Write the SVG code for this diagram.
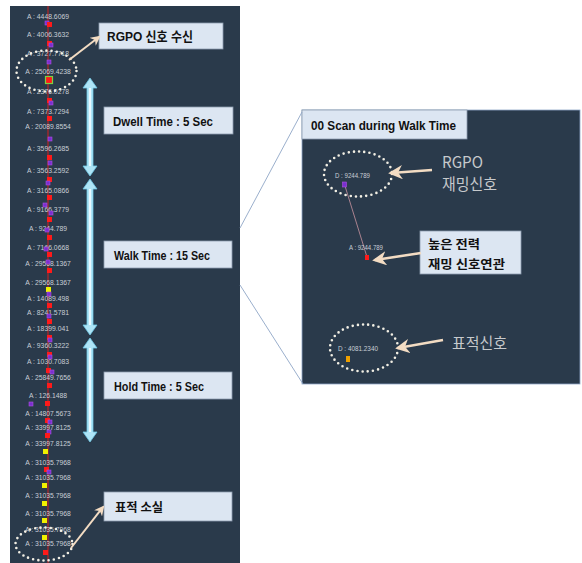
<svg xmlns="http://www.w3.org/2000/svg" width="582" height="563" viewBox="0 0 582 563">
<style>
.lbl{font-family:"Liberation Sans",Arial,sans-serif;font-size:6.8px;fill:#c9ced6;text-anchor:middle;dominant-baseline:central}
.box{fill:#dce6f2;stroke:#8c9cae;stroke-width:0.8}
.bt{font-family:"Liberation Sans","Noto Sans CJK KR",sans-serif;font-size:13px;font-weight:bold;fill:#111;dominant-baseline:central}
.kt{font-family:"Noto Sans CJK KR","Liberation Sans",sans-serif;font-size:12.5px;font-weight:bold;fill:#111;dominant-baseline:central}
.dots{fill:none;stroke:#f2efe4;stroke-width:2.6;stroke-dasharray:0 5.2;stroke-linecap:round}
.r{fill:#ff1a1a}
.p{fill:#7a2fd0;stroke:#b050e0;stroke-width:0.6}
.y{fill:#f0f000}
.ar{stroke:#f3dcc3;fill:none}
.gt{font-family:"Noto Sans CJK KR","Liberation Sans",sans-serif;font-size:15.5px;fill:#c6c9cc;dominant-baseline:central}
.dbl{fill:#aee4f6;stroke:#6ec6e4;stroke-width:0.8}
.conn{stroke:#8ea6c6;stroke-width:0.9;fill:none}
.sm{font-family:"Liberation Sans",Arial,sans-serif;font-size:6.5px;fill:#c9ced6;dominant-baseline:central}
</style>
<defs>
<marker id="ah" viewBox="0 0 10 10" refX="8" refY="5" markerWidth="5" markerHeight="5" orient="auto" markerUnits="strokeWidth">
<path d="M0,0 L10,5 L0,10 L3,5 Z" fill="#f3dcc3"/>
</marker>
<marker id="ahL" viewBox="0 0 10 10" refX="8" refY="5" markerWidth="5.5" markerHeight="5.5" orient="auto" markerUnits="strokeWidth">
<path d="M0,0 L10,5 L0,10 L3,5 Z" fill="#f3dcc3"/>
</marker>
</defs>
<rect width="582" height="563" fill="#ffffff"/>
<g id="left-panel">
<rect x="10" y="6" width="230" height="557" fill="#2a3a4b"/>
<line x1="48" y1="6" x2="48" y2="563" stroke="#d42020" stroke-width="1"/>
</g>
<g id="labels">
<text class="lbl" x="48" y="16">A : 4448.6069</text>
<text class="lbl" x="48" y="34">A : 4006.3632</text>
<text class="lbl" x="48" y="53">A : 3727.7718</text>
<text class="lbl" x="48" y="71">A : 25069.4238</text>
<text class="lbl" x="48" y="91">A : 2376.0278</text>
<text class="lbl" x="48" y="111">A : 7373.7294</text>
<text class="lbl" x="48" y="126">A : 20089.8554</text>
<text class="lbl" x="48" y="148">A : 3596.2685</text>
<text class="lbl" x="48" y="170">A : 3563.2592</text>
<text class="lbl" x="48" y="190">A : 3165.0866</text>
<text class="lbl" x="48" y="209">A : 9166.3779</text>
<text class="lbl" x="48" y="228">A : 9244.789</text>
<text class="lbl" x="48" y="247">A : 7166.0668</text>
<text class="lbl" x="48" y="263">A : 29568.1367</text>
<text class="lbl" x="48" y="282">A : 29568.1367</text>
<text class="lbl" x="48" y="298">A : 14089.498</text>
<text class="lbl" x="48" y="312">A : 8241.5781</text>
<text class="lbl" x="48" y="328">A : 18399.041</text>
<text class="lbl" x="48" y="345">A : 9360.3222</text>
<text class="lbl" x="48" y="361">A : 1030.7083</text>
<text class="lbl" x="48" y="377">A : 25849.7656</text>
<text class="lbl" x="48" y="395">A : 126.1488</text>
<text class="lbl" x="48" y="413">A : 14807.5673</text>
<text class="lbl" x="48" y="427">A : 33997.8125</text>
<text class="lbl" x="48" y="443">A : 33997.8125</text>
<text class="lbl" x="48" y="462">A : 31035.7968</text>
<text class="lbl" x="48" y="477">A : 31035.7968</text>
<text class="lbl" x="48" y="495">A : 31035.7968</text>
<text class="lbl" x="48" y="513">A : 31035.7968</text>
<text class="lbl" x="48" y="529">A : 31035.7968</text>
<text class="lbl" x="48" y="543">A : 31035.7968</text>
</g>
<g id="markers">
<rect class="p" x="45" y="21" width="4" height="4"/>
<rect class="r" x="47" y="22" width="5" height="5"/>
<rect class="r" x="47" y="41" width="5" height="5"/>
<rect class="p" x="49" y="43" width="4" height="4"/>
<rect class="p" x="47" y="60" width="4" height="4"/>
<rect x="45.5" y="76.5" width="7" height="7" fill="#ff1a1a" stroke="#7fd040" stroke-width="1.2"/>
<rect class="r" x="47" y="98" width="5" height="5"/>
<rect class="p" x="49" y="101" width="4" height="4"/>
<rect class="r" x="47" y="116" width="5" height="5"/>
<rect class="p" x="48" y="137" width="4" height="4"/>
<rect class="r" x="47" y="155" width="5" height="5"/>
<rect class="p" x="48" y="161" width="4" height="4"/>
<rect class="r" x="47" y="177" width="5" height="5"/>
<rect class="p" x="46" y="181" width="4" height="4"/>
<rect class="r" x="47" y="195" width="5" height="5"/>
<rect class="p" x="43" y="203" width="4" height="4"/>
<rect class="p" x="49" y="211" width="4" height="4"/>
<rect class="r" x="47" y="217" width="5" height="5"/>
<rect class="p" x="45" y="228" width="4" height="4"/>
<rect class="r" x="47" y="235" width="5" height="5"/>
<rect class="p" x="44" y="247" width="4" height="4"/>
<rect class="r" x="47" y="252" width="5" height="5"/>
<rect class="p" x="46" y="260" width="4" height="4"/>
<rect class="r" x="47" y="268" width="5" height="5"/>
<rect class="y" x="46" y="287" width="5" height="5"/>
<rect class="p" x="47" y="292" width="4" height="4"/>
<rect class="r" x="47" y="303" width="5" height="5"/>
<rect class="p" x="47" y="314" width="4" height="4"/>
<rect class="r" x="47" y="319" width="5" height="5"/>
<rect class="r" x="47" y="335" width="5" height="5"/>
<rect class="p" x="48" y="338" width="4" height="4"/>
<rect class="r" x="47" y="352" width="5" height="5"/>
<rect class="p" x="48" y="355" width="4" height="4"/>
<rect class="r" x="46" y="368" width="5" height="5"/>
<rect class="p" x="50" y="370" width="4" height="4"/>
<rect class="r" x="47" y="383" width="5" height="5"/>
<rect class="p" x="29" y="402" width="4" height="4"/>
<rect class="r" x="45" y="401" width="5" height="5"/>
<rect class="r" x="45" y="418" width="5" height="5"/>
<rect class="p" x="48" y="420" width="4" height="4"/>
<rect class="p" x="47" y="430" width="4" height="4"/>
<rect class="r" x="45" y="433" width="5" height="5"/>
<rect class="y" x="43" y="449" width="5" height="5"/>
<rect class="r" x="44" y="467" width="5" height="5"/>
<rect class="p" x="47" y="470" width="4" height="4"/>
<rect class="y" x="42" y="483" width="5" height="5"/>
<rect class="y" x="42" y="501" width="5" height="5"/>
<rect class="y" x="42" y="518" width="5" height="5"/>
<rect class="y" x="42" y="535" width="5" height="5"/>
<rect class="r" x="43" y="550" width="5" height="5"/>
</g>
<g id="ellipse-top"><ellipse class="dots" cx="46.5" cy="71" rx="30" ry="20.5"/></g>
<g id="ellipse-bottom"><ellipse class="dots" cx="44" cy="544" rx="28.5" ry="16.5"/></g>
<g id="arrow-dwell"><path class="dbl" d="M90,78 L97,88 L93,88 L93,166 L97,166 L90,176 L83,166 L87,166 L87,88 L83,88 Z"/><line x1="90" y1="88" x2="90" y2="166" stroke="#e8f8fe" stroke-width="2"/></g>
<g id="arrow-walk"><path class="dbl" d="M90,179 L97,189 L93,189 L93,325 L97,325 L90,335 L83,325 L87,325 L87,189 L83,189 Z"/><line x1="90" y1="189" x2="90" y2="325" stroke="#e8f8fe" stroke-width="2"/></g>
<g id="arrow-hold"><path class="dbl" d="M90,338 L97,348 L93,348 L93,432 L97,432 L90,442 L83,432 L87,432 L87,348 L83,348 Z"/><line x1="90" y1="348" x2="90" y2="432" stroke="#e8f8fe" stroke-width="2"/></g>
<g id="box-rgpo"><rect class="box" x="99" y="23" width="124" height="26"/><text class="bt" x="107" y="36.5" textLength="86" lengthAdjust="spacingAndGlyphs">RGPO 신호 수신</text></g>
<g id="box-dwell"><rect class="box" x="104" y="107" width="129" height="27"/><text class="bt" x="113" y="121" textLength="100" lengthAdjust="spacingAndGlyphs">Dwell Time : 5 Sec</text></g>
<g id="box-walk"><rect class="box" x="104" y="241" width="128" height="27"/><text class="bt" x="114" y="255" textLength="96" lengthAdjust="spacingAndGlyphs">Walk Time : 15 Sec</text></g>
<g id="box-hold"><rect class="box" x="104" y="372" width="128" height="27"/><text class="bt" x="114" y="386" textLength="90" lengthAdjust="spacingAndGlyphs">Hold Time : 5 Sec</text></g>
<g id="box-loss"><rect class="box" x="104" y="492" width="128" height="29"/><text class="kt" x="115" y="506.5" textLength="48" lengthAdjust="spacingAndGlyphs">표적 소실</text></g>
<g id="right-panel">
<rect x="302" y="110" width="278" height="274" fill="#2a3a4b" stroke="#8ea6c6" stroke-width="0.8"/>
<rect class="box" x="302" y="110" width="165" height="29"/>
<text class="bt" x="311" y="125" textLength="145" lengthAdjust="spacingAndGlyphs">00 Scan during Walk Time</text>
<ellipse class="dots" cx="358" cy="174" rx="34" ry="22.5"/>
<text class="sm" x="335" y="175" textLength="35" lengthAdjust="spacingAndGlyphs">D : 9244.789</text>
<line x1="345" y1="186" x2="367" y2="257" stroke="#b88a96" stroke-width="0.9"/>
<rect class="p" x="342.5" y="182" width="4" height="5"/>
<text class="sm" x="349" y="247" textLength="34" lengthAdjust="spacingAndGlyphs">A : 9244.789</text>
<rect class="r" x="365" y="255" width="4" height="5"/>
<ellipse class="dots" cx="364" cy="348" rx="34" ry="23.5"/>
<text class="sm" x="338" y="348" textLength="40" lengthAdjust="spacingAndGlyphs">D : 4081.2340</text>
<rect x="346" y="356" width="4" height="6" fill="#f0a000"/>
<text class="gt" x="442" y="161" textLength="41" lengthAdjust="spacingAndGlyphs">RGPO</text>
<text class="gt" x="442" y="183" textLength="55" lengthAdjust="spacingAndGlyphs">재밍신호</text>
<text class="gt" x="452" y="342" textLength="55" lengthAdjust="spacingAndGlyphs">표적신호</text>
<rect class="box" x="420" y="231" width="101" height="43"/>
<text class="kt" x="428" y="243" textLength="52" lengthAdjust="spacingAndGlyphs">높은 전력</text>
<text class="kt" x="428" y="263" textLength="77" lengthAdjust="spacingAndGlyphs">재밍 신호연관</text>
</g>
<g id="connectors">
<line class="conn" x1="240" y1="228" x2="302" y2="112"/>
<line class="conn" x1="240" y1="285" x2="303" y2="384"/>
<line class="ar" x1="69" y1="60" x2="99" y2="37" stroke-width="2" marker-end="url(#ah)"/>
<line class="ar" x1="71" y1="548" x2="103" y2="507" stroke-width="2" marker-end="url(#ah)"/>
<line class="ar" x1="432" y1="170" x2="391" y2="173" stroke-width="2.6" marker-end="url(#ahL)"/>
<line class="ar" x1="421" y1="253" x2="375" y2="260" stroke-width="2.6" marker-end="url(#ahL)"/>
<line class="ar" x1="443" y1="340" x2="398" y2="348" stroke-width="2.6" marker-end="url(#ahL)"/>
</g>
</svg>
